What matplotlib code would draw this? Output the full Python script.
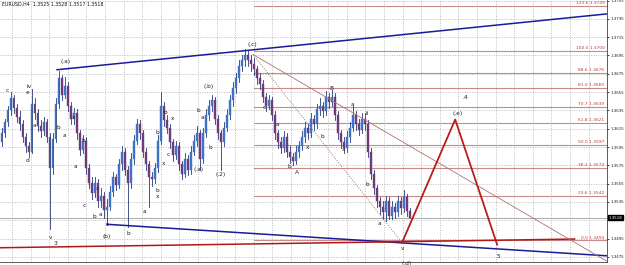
import matplotlib
matplotlib.use("Agg")
import matplotlib.pyplot as plt
from matplotlib.patches import Rectangle

# ---- candle data (EURUSD H4) ----
opens = [1.3600, 1.3610, 1.3622, 1.3635, 1.3648, 1.3638, 1.3628, 1.3620, 1.3606, 1.3596,
         1.3590, 1.3642, 1.3632, 1.3618, 1.3612, 1.3622, 1.3606, 1.3572, 1.3604, 1.3642,
         1.3670, 1.3652, 1.3662, 1.3640, 1.3626, 1.3632, 1.3610, 1.3592, 1.3602, 1.3572,
         1.3556, 1.3545, 1.3556, 1.3536, 1.3542, 1.3526, 1.3530, 1.3546, 1.3562, 1.3554,
         1.3576, 1.3590, 1.3570, 1.3556, 1.3582, 1.3602, 1.3620, 1.3610, 1.3590, 1.3576,
         1.3562, 1.3560, 1.3572, 1.3602, 1.3640, 1.3624, 1.3616, 1.3600, 1.3586, 1.3596,
         1.3576, 1.3566, 1.3582, 1.3570, 1.3590, 1.3602, 1.3610, 1.3582, 1.3610, 1.3630,
         1.3640, 1.3646, 1.3626, 1.3610, 1.3600, 1.3616, 1.3630, 1.3646, 1.3660, 1.3670,
         1.3684, 1.3690, 1.3696, 1.3690, 1.3686, 1.3680, 1.3670, 1.3664, 1.3650, 1.3640,
         1.3646, 1.3630, 1.3610, 1.3600, 1.3594, 1.3606, 1.3590, 1.3584, 1.3580, 1.3590,
         1.3596, 1.3606, 1.3616, 1.3610, 1.3626, 1.3620, 1.3636, 1.3640, 1.3634, 1.3650,
         1.3644, 1.3650, 1.3630, 1.3610, 1.3600, 1.3594, 1.3606, 1.3616, 1.3630, 1.3620,
         1.3614, 1.3626, 1.3620, 1.3590, 1.3566, 1.3550, 1.3536, 1.3530, 1.3524, 1.3536,
         1.3520, 1.3530, 1.3524, 1.3536, 1.3528, 1.3540, 1.3525]
highs = [1.3616, 1.3626, 1.3640, 1.3655, 1.3652, 1.3642, 1.3634, 1.3624, 1.3610, 1.3600,
         1.3658, 1.3648, 1.3636, 1.3624, 1.3628, 1.3626, 1.3610, 1.3610, 1.3648, 1.3678,
         1.3674, 1.3672, 1.3666, 1.3644, 1.3638, 1.3636, 1.3614, 1.3608, 1.3606, 1.3576,
         1.3562, 1.3562, 1.3560, 1.3550, 1.3546, 1.3538, 1.3552, 1.3568, 1.3566, 1.3582,
         1.3596, 1.3594, 1.3574, 1.3588, 1.3608, 1.3626, 1.3624, 1.3614, 1.3594, 1.3580,
         1.3568, 1.3578, 1.3608, 1.3655, 1.3644, 1.3630, 1.3620, 1.3604, 1.3602, 1.3600,
         1.3580, 1.3588, 1.3586, 1.3596, 1.3608, 1.3618, 1.3614, 1.3616, 1.3636, 1.3646,
         1.3652, 1.3650, 1.3630, 1.3614, 1.3622, 1.3636, 1.3652, 1.3666, 1.3676, 1.3690,
         1.3696, 1.3702, 1.3700, 1.3696, 1.3692, 1.3684, 1.3676, 1.3668, 1.3654, 1.3652,
         1.3650, 1.3634, 1.3614, 1.3606, 1.3612, 1.3610, 1.3596, 1.3588, 1.3596, 1.3602,
         1.3612, 1.3622, 1.3620, 1.3632, 1.3630, 1.3642, 1.3648, 1.3644, 1.3656, 1.3654,
         1.3657, 1.3654, 1.3634, 1.3614, 1.3606, 1.3612, 1.3622, 1.3640, 1.3634, 1.3626,
         1.3632, 1.3632, 1.3624, 1.3594, 1.3570, 1.3554, 1.3540, 1.3536, 1.3542, 1.3540,
         1.3536, 1.3534, 1.3542, 1.3540, 1.3548, 1.3544, 1.3528]
lows = [1.3596, 1.3606, 1.3618, 1.3630, 1.3632, 1.3622, 1.3614, 1.3600, 1.3590, 1.3584,
        1.3588, 1.3626, 1.3612, 1.3606, 1.3608, 1.3600, 1.3505, 1.3566, 1.3600, 1.3638,
        1.3646, 1.3648, 1.3634, 1.3620, 1.3620, 1.3604, 1.3586, 1.3588, 1.3566, 1.3550,
        1.3538, 1.3540, 1.3530, 1.3530, 1.3518, 1.3510, 1.3526, 1.3542, 1.3548, 1.3550,
        1.3570, 1.3564, 1.3508, 1.3550, 1.3576, 1.3598, 1.3604, 1.3584, 1.3570, 1.3530,
        1.3552, 1.3556, 1.3568, 1.3598, 1.3618, 1.3610, 1.3594, 1.3580, 1.3582, 1.3570,
        1.3560, 1.3562, 1.3564, 1.3566, 1.3586, 1.3596, 1.3570, 1.3578, 1.3606, 1.3624,
        1.3634, 1.3620, 1.3604, 1.3570, 1.3596, 1.3612, 1.3626, 1.3640, 1.3654, 1.3666,
        1.3678, 1.3684, 1.3684, 1.3678, 1.3674, 1.3664, 1.3658, 1.3644, 1.3634, 1.3636,
        1.3624, 1.3604, 1.3594, 1.3588, 1.3590, 1.3584, 1.3578, 1.3575, 1.3576, 1.3584,
        1.3592, 1.3600, 1.3604, 1.3606, 1.3614, 1.3616, 1.3630, 1.3628, 1.3630, 1.3638,
        1.3640, 1.3624, 1.3604, 1.3594, 1.3588, 1.3590, 1.3600, 1.3612, 1.3614, 1.3608,
        1.3610, 1.3614, 1.3584, 1.3560, 1.3544, 1.3530, 1.3522, 1.3516, 1.3514, 1.3516,
        1.3516, 1.3518, 1.3520, 1.3522, 1.3524, 1.3520, 1.3517]
closes = [1.3610, 1.3622, 1.3635, 1.3648, 1.3638, 1.3628, 1.3620, 1.3606, 1.3596, 1.3590,
          1.3642, 1.3632, 1.3618, 1.3612, 1.3622, 1.3606, 1.3572, 1.3604, 1.3642, 1.3670,
          1.3652, 1.3662, 1.3640, 1.3626, 1.3632, 1.3610, 1.3592, 1.3602, 1.3572, 1.3556,
          1.3545, 1.3556, 1.3536, 1.3542, 1.3526, 1.3530, 1.3546, 1.3562, 1.3554, 1.3576,
          1.3590, 1.3570, 1.3556, 1.3582, 1.3602, 1.3620, 1.3610, 1.3590, 1.3576, 1.3562,
          1.3560, 1.3572, 1.3602, 1.3640, 1.3624, 1.3616, 1.3600, 1.3586, 1.3596, 1.3576,
          1.3566, 1.3582, 1.3570, 1.3590, 1.3602, 1.3610, 1.3582, 1.3610, 1.3630, 1.3640,
          1.3646, 1.3626, 1.3610, 1.3600, 1.3616, 1.3630, 1.3646, 1.3660, 1.3670, 1.3684,
          1.3690, 1.3696, 1.3690, 1.3686, 1.3680, 1.3670, 1.3664, 1.3650, 1.3640, 1.3646,
          1.3630, 1.3610, 1.3600, 1.3594, 1.3606, 1.3590, 1.3584, 1.3580, 1.3590, 1.3596,
          1.3606, 1.3616, 1.3610, 1.3626, 1.3620, 1.3636, 1.3640, 1.3634, 1.3650, 1.3644,
          1.3650, 1.3630, 1.3610, 1.3600, 1.3594, 1.3606, 1.3616, 1.3630, 1.3620, 1.3614,
          1.3626, 1.3620, 1.3590, 1.3566, 1.3550, 1.3536, 1.3530, 1.3524, 1.3536, 1.3520,
          1.3530, 1.3524, 1.3536, 1.3528, 1.3540, 1.3525, 1.3518]

# price axis ticks
price_ticks = [1.3755, 1.3735, 1.3715, 1.3695, 1.3675, 1.3655, 1.3635, 1.3615,
               1.3595, 1.3575, 1.3555, 1.3535, 1.3495, 1.3475]
bid = 1.3518

# fibonacci levels (drawn from the (c) top)
fib_pct = ["123.6", "100.0", "88.6", "81.0", "70.7", "61.8", "50.0", "38.2", "23.6", "0.0"]
fib_price = [1.3749, 1.3700, 1.3676, 1.3660, 1.3639, 1.3621, 1.3597, 1.3572, 1.3542, 1.3493]
fib_start = 84

# trend lines: (bar, price) pairs
upper_line = [(18.5, 1.36794), (201.8, 1.37404)]
lower_line = [(35.2, 1.35106), (201.8, 1.34762)]
red_line = [(-0.5, 1.34850), (191.0, 1.34945)]
zigzag_x = [133.5, 151.2, 165.2]
zigzag_y = [1.34906, 1.36250, 1.34883]
dotted_line = [(83.8, 1.36961), (133.5, 1.34906)]
fan_line = [(83.8, 1.36961), (202.8, 1.34683)]

# wave labels (text, bar, price)
wave_labels = [
    ("(.a)", 21.2, 1.3688), ("c", 2.0, 1.3657), ("iv", 9.3, 1.3661), ("e", 8.8, 1.3654),
    ("d", 8.8, 1.3580), ("a", 11.0, 1.3619), ("b", 18.8, 1.3616), ("a", 21.0, 1.3608),
    ("x", 24.0, 1.3627), ("b", 27.3, 1.3602), ("a", 24.5, 1.3574), ("v", 16.2, 1.3496),
    ("3", 17.8, 1.3490), ("c", 27.5, 1.3531), ("b", 31.0, 1.3519), ("x", 32.0, 1.3550),
    ("c", 35.3, 1.3510), ("(b)", 35.0, 1.3497), ("a", 33.0, 1.3521), ("b", 42.3, 1.3501),
    ("a", 47.5, 1.3525), ("b", 52.0, 1.3547), ("x", 52.0, 1.3541), ("b", 54.5, 1.3633),
    ("x", 57.0, 1.3626), ("b", 52.0, 1.3611), ("c", 55.5, 1.3587), ("x", 54.0, 1.3577),
    ("b", 65.5, 1.3635), ("a", 67.0, 1.3627), ("(.a)", 65.8, 1.3571), ("(.b)", 69.0, 1.3661),
    ("b", 69.5, 1.3594), ("(.2)", 73.0, 1.3565), ("(.c)", 83.5, 1.3707), ("c", 87.7, 1.3638),
    ("a", 92.0, 1.3620), ("b", 96.0, 1.3574), ("A", 98.5, 1.3567), ("x", 102.0, 1.3594),
    ("b", 107.0, 1.3606), ("B", 110.0, 1.3659), ("a", 117.0, 1.3641), ("x", 114.0, 1.3592),
    ("ii", 122.0, 1.3632), ("b", 122.0, 1.3554), ("a", 126.0, 1.3511), ("v", 133.7, 1.3484),
    ("(.d)", 135.0, 1.3468), ("(.e)", 152.0, 1.3632), (".4", 154.5, 1.3649),
    ("5", 165.5, 1.3475),
]

N = len(closes)
xs = list(range(N))

fig = plt.figure(figsize=(6.25, 2.65), dpi=100)
fig.patch.set_facecolor("white")
ax = fig.add_axes([0.0, 3 / 265, 607 / 625, 262 / 265])
ax.set_facecolor("white")
ax.set_xlim(-0.5, 201.8)
ax.set_ylim(1.346944, 1.375556)

# grid
for p in price_ticks + [1.3515]:
    ax.axhline(p, color="#a8a8a8", lw=0.5, ls=(0, (1.5, 2)), zorder=0)
grid_x = [3.5 + 6.2 * k for k in range(33)]
for gx in grid_x:
    ax.axvline(gx, color="#a8a8a8", lw=0.5, ls=(0, (1.5, 2)), zorder=0)

# fibonacci lines
for pct, fp in zip(fib_pct, fib_price):
    ax.plot([fib_start, 201.8], [fp, fp], color="#c98a8a", lw=0.8, zorder=1)
    ax.text(201.0, fp + 0.00008, "%s %.4f" % (pct, fp), color="#b04040",
            fontsize=3.2, ha="right", va="bottom", zorder=5)

# bid line
ax.axhline(bid, color="#9a9a9a", lw=0.6, zorder=1)

# candles
bull_col = "#3d72c8"
bear_col = "#6e3a78"
for x, o, h, l, c in zip(xs, opens, highs, lows, closes):
    col = bull_col if c >= o else bear_col
    ax.plot([x, x], [l, h], color="#243a7a", lw=0.6, zorder=3)
    body_lo = min(o, c)
    body_h = max(abs(c - o), 0.00005)
    ax.add_patch(Rectangle((x - 0.33, body_lo), 0.66, body_h, facecolor=col,
                           edgecolor=col, lw=0.3, zorder=4))

# trend lines
ax.plot(*zip(*upper_line), color="#1a1a9a", lw=1.1, zorder=6)
ax.plot(*zip(*lower_line), color="#1a1a9a", lw=1.1, zorder=6)
ax.plot(*zip(*red_line), color="#b01818", lw=1.1, zorder=6)
ax.plot(*zip(*dotted_line), color="#a08080", lw=0.6, ls=(0, (1.5, 1.5)), zorder=6)
ax.plot(*zip(*fan_line), color="#b07070", lw=0.6, zorder=6)
ax.plot(zigzag_x, zigzag_y, color="#b81c1c", lw=1.3, zorder=6)

for txt, bx, by in wave_labels:
    ax.text(bx, by, txt, fontsize=4.2, color="#202020", ha="center", va="center", zorder=7)

ax.text(0.3, 1.37505, "EURUSD,H4  1.3525 1.3528 1.3517 1.3518", fontsize=3.4,
        color="#101010", ha="left", va="center", zorder=7)

# right price scale
ax.yaxis.tick_right()
ax.set_yticks(price_ticks)
ax.set_yticklabels(["%.4f" % p for p in price_ticks], fontsize=2.9, color="#202020")
ax.tick_params(axis="y", length=1.5, width=0.5, pad=0.8)
ax.set_xticks([])
for s in ["top", "left"]:
    ax.spines[s].set_visible(False)
ax.spines["right"].set_color("#404040")
ax.spines["bottom"].set_color("#404040")
ax.spines["right"].set_linewidth(0.6)
ax.spines["bottom"].set_linewidth(0.6)

ax.text(1.003, (bid - 1.346944) / (1.375556 - 1.346944), "%.4f" % bid,
        transform=ax.transAxes, fontsize=2.9, color="white", ha="left", va="center",
        bbox=dict(facecolor="black", edgecolor="black", pad=0.6), zorder=8, clip_on=False)

fig.savefig("out.png", dpi=100, facecolor="white")
